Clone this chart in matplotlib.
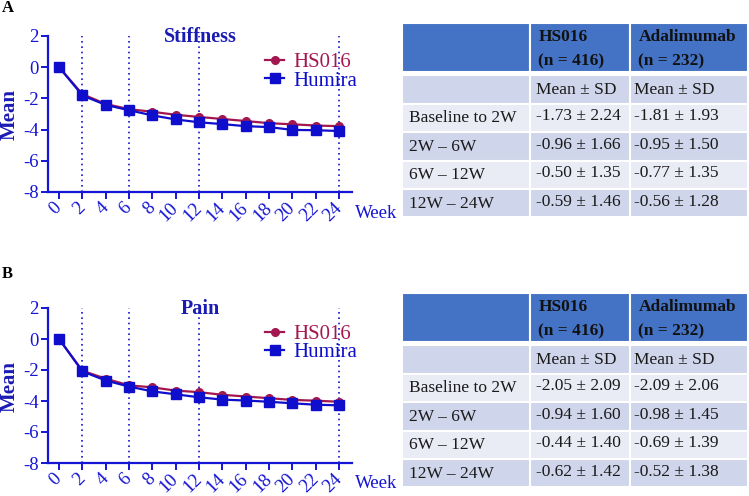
import matplotlib
matplotlib.use("Agg")
import matplotlib.pyplot as plt
from matplotlib.patches import Rectangle

plt.rcParams['font.family'] = ['Liberation Serif', 'DejaVu Serif']

# ---------------- data ----------------
weeks = [0, 2, 4, 6, 8, 10, 12, 14, 16, 18, 20, 22, 24]
ref_weeks = [2, 6, 12, 24]

stiff_hs016 = [0, -1.73, -2.36, -2.69, -2.86, -3.05, -3.19, -3.32, -3.45, -3.59, -3.66, -3.74, -3.78]
stiff_humira = [0, -1.81, -2.42, -2.76, -3.09, -3.35, -3.53, -3.65, -3.78, -3.84, -4.02, -4.04, -4.09]

pain_hs016 = [0, -2.05, -2.56, -2.99, -3.12, -3.33, -3.43, -3.60, -3.71, -3.82, -3.93, -3.98, -4.05]
pain_humira = [0, -2.09, -2.68, -3.07, -3.38, -3.57, -3.76, -3.91, -3.97, -4.05, -4.15, -4.24, -4.28]

yticks = [2, 0, -2, -4, -6, -8]
xticks = [0, 2, 4, 6, 8, 10, 12, 14, 16, 18, 20, 22, 24]

table_header = ["", "HS016\n(n = 416)", "Adalimumab\n(n = 232)"]
row_labels = ["", "Baseline to 2W", "2W \u2013 6W", "6W \u2013 12W", "12W \u2013 24W"]
stiff_hs016_tab = ["Mean \u00b1 SD", "-1.73 \u00b1 2.24", "-0.96 \u00b1 1.66", "-0.50 \u00b1 1.35", "-0.59 \u00b1 1.46"]
stiff_ada_tab = ["Mean \u00b1 SD", "-1.81 \u00b1 1.93", "-0.95 \u00b1 1.50", "-0.77 \u00b1 1.35", "-0.56 \u00b1 1.28"]
pain_hs016_tab = ["Mean \u00b1 SD", "-2.05 \u00b1 2.09", "-0.94 \u00b1 1.60", "-0.44 \u00b1 1.40", "-0.62 \u00b1 1.42"]
pain_ada_tab = ["Mean \u00b1 SD", "-2.09 \u00b1 2.06", "-0.98 \u00b1 1.45", "-0.69 \u00b1 1.39", "-0.52 \u00b1 1.38"]

# ---------------- style ----------------
W, H = 749, 496
AX_BLUE = '#1515D5'
TITLE_BLUE = '#1A1AB5'
HS_COL = '#A3174E'
HU_COL = '#0E0ECC'
HDR_COL = '#4472C4'
DARK_ROW = '#CFD5EA'
LIGHT_ROW = '#E9EBF5'

fig = plt.figure(figsize=(W / 100, H / 100), dpi=100)

# full-figure overlay for table & panel letters
ov = fig.add_axes([0, 0, 1, 1])
ov.set_xlim(0, W)
ov.set_ylim(H, 0)
ov.axis('off')


def px_axes(l, t, r, b):
    return fig.add_axes([l / W, 1 - b / H, (r - l) / W, (b - t) / H])


def draw_plot(ax, hs, hu, title):
    for w in ref_weeks:
        ax.axvline(w, color=AX_BLUE, lw=1.2, ls=(0, (1, 2.2)), zorder=1)
    ax.plot(weeks, hs, color=HS_COL, lw=1.6, marker='o', ms=5.5, label='HS016', zorder=3)
    ax.plot(weeks, hu, color=HU_COL, lw=1.6, marker='s', ms=6.5, label='Humira', zorder=4)
    ax.set_xlim(-0.95, 25.1)
    ax.set_ylim(-8, 2)
    ax.set_yticks(yticks)
    ax.set_yticklabels([str(v) for v in yticks])
    ax.set_xticks(xticks)
    ax.set_xticklabels([str(v) for v in xticks], rotation=45, ha='right', va='center',
                       rotation_mode='anchor')
    for s in ['top', 'right']:
        ax.spines[s].set_visible(False)
    for s in ['left', 'bottom']:
        ax.spines[s].set_color(AX_BLUE)
        ax.spines[s].set_linewidth(1.6)
    ax.tick_params(axis='both', colors=AX_BLUE, labelcolor=AX_BLUE, width=1.4, length=5,
                   labelsize=13.5)
    ax.tick_params(axis='y', pad=1.5)
    ax.tick_params(axis='x', pad=4.5)
    ax.patch.set_alpha(0)
    ax.text(0.5, 0.995, title, transform=ax.transAxes, ha='center', va='center',
            fontsize=14.5, fontweight='bold', color=TITLE_BLUE)
    ax.text(1.01, -0.135, 'Week', transform=ax.transAxes, ha='left', va='center',
            fontsize=13.5, color=AX_BLUE)
    leg = ax.legend(loc='upper left', bbox_to_anchor=(0.715, 0.895), frameon=False,
                    fontsize=15, handlelength=0.9, handletextpad=0.45, labelspacing=-0.05,
                    borderaxespad=0, borderpad=0)
    for t, c in zip(leg.get_texts(), [HS_COL, HU_COL]):
        t.set_color(c)


def draw_table(top, hs_col, ada_col):
    xe = [402, 529.5, 629.5, 748]
    hdr_h = 48.5
    gap = 3.5
    row_h = 28.4
    # header
    for i in range(3):
        ov.add_patch(Rectangle((xe[i], top), xe[i + 1] - xe[i], hdr_h, facecolor=HDR_COL,
                               edgecolor='white', lw=1.5))
    for i in (1, 2):
        ov.text(xe[i] + 9, top + hdr_h / 2 + 1.5, table_header[i], ha='left', va='center',
                fontsize=12.5, fontweight='bold', color='#111111', linespacing=1.65)
    y0 = top + hdr_h + gap
    for r in range(5):
        fc = DARK_ROW if r % 2 == 0 else LIGHT_ROW
        y = y0 + r * row_h
        for i in range(3):
            ov.add_patch(Rectangle((xe[i], y), xe[i + 1] - xe[i], row_h, facecolor=fc,
                                   edgecolor='white', lw=1.5))
        ov.text(xe[0] + 7, y + row_h / 2 + 0.5, row_labels[r], ha='left', va='center',
                fontsize=12.5, color='#1a1a1a')
        ov.text(xe[1] + 6, y + row_h / 2 - (0 if r == 0 else 1.5), hs_col[r], ha='left',
                va='center', fontsize=12.5, color='#1a1a1a')
        ov.text(xe[2] + 5, y + row_h / 2 - (0 if r == 0 else 1.5), ada_col[r], ha='left',
                va='center', fontsize=12.5, color='#1a1a1a')


ax1 = px_axes(48, 36, 352, 192)
draw_plot(ax1, stiff_hs016, stiff_humira, 'Stiffness')
ax2 = px_axes(48, 308, 352, 463)
draw_plot(ax2, pain_hs016, pain_humira, 'Pain')

fig.text(10 / W, 1 - 114 / H, 'Mean', rotation=90, ha='center', va='center',
         fontsize=15, fontweight='bold', color=TITLE_BLUE)
fig.text(10 / W, 1 - 386 / H, 'Mean', rotation=90, ha='center', va='center',
         fontsize=15, fontweight='bold', color=TITLE_BLUE)

draw_table(23.3, stiff_hs016_tab, stiff_ada_tab)
draw_table(293.3, pain_hs016_tab, pain_ada_tab)

ov.text(2, 8, 'A', ha='left', va='center', fontsize=12, fontweight='bold', color='black')
ov.text(2, 274, 'B', ha='left', va='center', fontsize=12, fontweight='bold', color='black')

fig.savefig('out.png', dpi=100)
